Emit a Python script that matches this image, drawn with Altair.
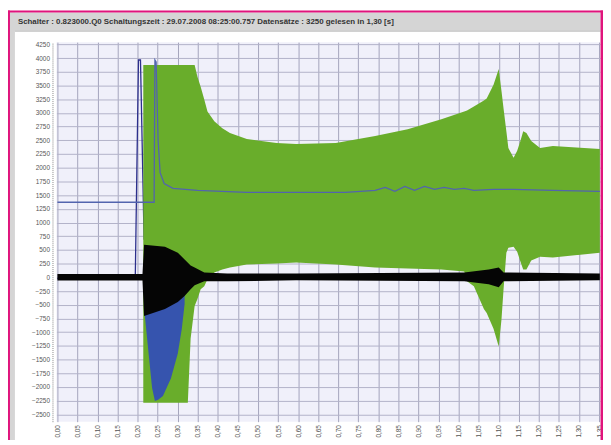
import altair as alt
import pandas as pd

# ---------------- axis ticks ----------------
x_ticks = [round(i * 0.05, 2) for i in range(28)]
y_ticks = list(range(-2500, 4251, 250))

# ---------------- green envelope (upper / lower) ----------------
g_t = [0.214, 0.325, 0.332, 0.342, 0.349, 0.357, 0.366, 0.374, 0.391, 0.411, 0.430,
       0.472, 0.546, 0.595, 0.694, 0.792, 0.873, 0.957, 1.014, 1.021, 1.038, 1.063,
       1.070, 1.087, 1.100, 1.107, 1.112, 1.119, 1.124, 1.137, 1.146, 1.154, 1.161,
       1.169, 1.181, 1.203, 1.235, 1.352]
g_hi = [3874, 3874, 3874, 3874, 3658, 3478, 3244, 3027, 2847, 2721, 2631,
        2523, 2451, 2433, 2451, 2577, 2703, 2883, 3027, 3045, 3117, 3226,
        3262, 3514, 3802, 3388, 3081, 2667, 2361, 2180, 2307, 2487, 2667,
        2631, 2487, 2361, 2397, 2343]
g_lo = [-2289, -2289, -1117, -523, -396, -216, -162, -36, 90, 144, 180,
        234, 252, 270, 234, 180, 162, 144, 108, -72, -162, -577,
        -650, -937, -1261, -757, -216, 451, 541, 559, 469, 288, 144,
        144, 306, 378, 360, 451]

# ---------------- black signal band ----------------
k_t = [0.0, 0.212, 0.216, 0.268, 0.300, 0.317, 0.332, 0.342, 0.366, 0.423, 0.595,
       1.014, 1.075, 1.100, 1.112, 1.352]
k_hi = [60, 60, 595, 559, 451, 324, 216, 180, 90, 72, 72,
        90, 144, 180, 90, 72]
k_lo = [-55, -55, -703, -577, -450, -342, -216, -144, -72, -72, -54,
        -72, -126, -180, -72, -54]

# ---------------- blue negative lobe ----------------
b_t = [0.217, 0.226, 0.236, 0.243, 0.251, 0.263, 0.283, 0.300, 0.310, 0.317]
b_hi = [-300, -300, -300, -300, -300, -300, -300, -300, -300, -300]
b_lo = [-631, -1297, -2018, -2253, -2234, -2162, -1838, -1388, -937, -487]

# ---------------- navy line (spike) ----------------
a_t = [0.0, 0.194, 0.202, 0.207, 0.216]
a_v = [-18, -18, 3964, 3964, 685]

# ---------------- slate-blue line ----------------
l_t = [0.0, 0.241, 0.243, 0.246, 0.251, 0.256, 0.266, 0.288, 0.349, 0.472, 0.595,
       0.718, 0.792, 0.817, 0.841, 0.866, 0.890, 0.915, 0.940, 0.964, 0.989,
       1.014, 1.038, 1.087, 1.137, 1.235, 1.352]
l_v = [1370, 1370, 3964, 3928, 2487, 1910, 1712, 1622, 1586, 1550, 1550,
       1550, 1586, 1640, 1568, 1658, 1586, 1658, 1604, 1640, 1604,
       1622, 1586, 1604, 1604, 1586, 1568]

title_text = ("Schalter : 0.823000.Q0  Schaltungszeit : 29.07.2008 08:25:00.757  "
              "Datensätze : 3250 gelesen in 1,30 [s]")

green_df = pd.DataFrame({"t": g_t, "hi": g_hi, "lo": g_lo})
black_df = pd.DataFrame({"t": k_t, "hi": k_hi, "lo": k_lo})
blue_df = pd.DataFrame({"t": b_t, "hi": b_hi, "lo": b_lo})
a_df = pd.DataFrame({"t": a_t, "v": a_v})
l_df = pd.DataFrame({"t": l_t, "v": l_v})
one = pd.DataFrame({"k": [0]})

W, H = 550, 384
xs = alt.Scale(domain=[-0.0025, 1.3525], nice=False, zero=False)
ys = alt.Scale(domain=[-2632, 4290], nice=False, zero=False)

x_axis = alt.Axis(values=x_ticks, title=None, labelAngle=270, labelPadding=3,
                  ticks=False, domain=False, grid=True, gridColor="#a4a4bc",
                  gridWidth=1, labelFontSize=6.5, labelColor="#555555",
                  labelFont="Liberation Sans",
                  labelExpr="replace(format(datum.value, '.2f'), '.', ',')")
y_axis = alt.Axis(values=y_ticks, title=None, format="d", labelPadding=3,
                  ticks=False, domain=True, domainDash=[1, 1],
                  domainColor="#888888", offset=4, grid=True,
                  gridColor="#b2b2c8", gridWidth=1, labelFontSize=6.5,
                  labelColor="#555555", labelFont="Liberation Sans")

X = alt.X("t:Q", scale=xs, axis=x_axis)


def box(x, x2, y, y2, color):
    return alt.Chart(one).mark_rect(color=color).encode(
        x=alt.value(x), x2=alt.value(x2), y=alt.value(y), y2=alt.value(y2))


pink = "#e0147c"
frame = "#d5d5d5"
R = W + 3
deco = [
    box(-47, W + 0.5, -30, -11, frame),
    box(-47, -42, -30, 420, frame),
    box(-42, W + 0.5, -11.5, -10.5, "#c4c4c4"),
    box(-49, R, -32, -30, pink),
    box(-49, -47, -32, 420, pink),
    box(W + 0.5, R, -32, 420, pink),
]
title = alt.Chart(one).mark_text(
    text=title_text, align="left", baseline="middle", fontSize=8,
    fontWeight="bold", color="#333333", font="Liberation Sans"
).encode(x=alt.value(-39), y=alt.value(-20))

line_a = alt.Chart(a_df).mark_line(color="#2c2f8c", strokeWidth=1.3).encode(
    x=X, y=alt.Y("v:Q", scale=ys, axis=y_axis))
green = alt.Chart(green_df).mark_area(color="#69ad2b", opacity=1).encode(
    x=X, y=alt.Y("hi:Q", scale=ys, axis=y_axis), y2="lo:Q")
blue = alt.Chart(blue_df).mark_area(color="#3654ae", opacity=1).encode(
    x=X, y=alt.Y("hi:Q", scale=ys, axis=y_axis), y2="lo:Q")
black = alt.Chart(black_df).mark_area(color="#050505", opacity=1).encode(
    x=X, y=alt.Y("hi:Q", scale=ys, axis=y_axis), y2="lo:Q")
line_b = alt.Chart(l_df).mark_line(color="#5264ae", strokeWidth=1.3).encode(
    x=X, y=alt.Y("v:Q", scale=ys, axis=y_axis))

chart = alt.layer(*deco, title, line_a, green, blue, black, line_b).properties(
    width=W, height=H,
    autosize=alt.AutoSizeParams(type="none"),
    padding={"left": 49, "top": 32, "right": 3, "bottom": 16},
    background="white",
).configure_view(fill="#f0f0fa", strokeWidth=0)

chart.save("out.html", embed_options={"renderer": "svg", "actions": False})
